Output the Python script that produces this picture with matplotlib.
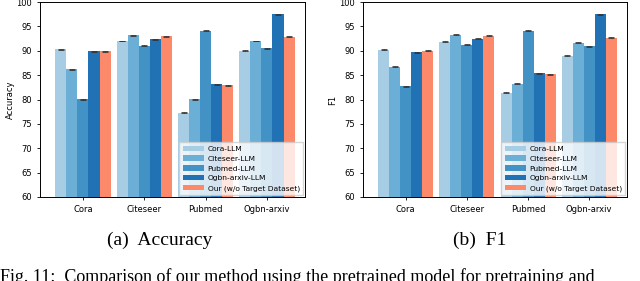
import matplotlib.pyplot as plt
import numpy as np

datasets = ["Cora", "Citeseer", "Pubmed", "Ogbn-arxiv"]
series = ["Cora-LLM", "Citeseer-LLM", "Pubmed-LLM", "Ogbn-arxiv-LLM", "Our (w/o Target Dataset)"]
colors = ["#a6cde4", "#6baed6", "#4292c6", "#2171b5", "#fc8a6a"]

# rows: series, columns: datasets
acc = [
    [90.3, 92.0, 77.3, 90.0],
    [86.2, 93.2, 80.1, 92.0],
    [80.1, 91.0, 94.1, 90.5],
    [89.9, 92.4, 83.1, 97.5],
    [89.9, 93.0, 82.9, 92.9],
]
f1 = [
    [90.2, 91.8, 81.4, 89.0],
    [86.7, 93.3, 83.2, 91.6],
    [82.7, 91.2, 94.1, 90.9],
    [89.7, 92.5, 85.4, 97.5],
    [90.0, 93.1, 85.2, 92.7],
]
err = 0.1

fig = plt.figure(figsize=(6.4, 2.81), dpi=100)
ax1 = fig.add_axes([40 / 640, 1 - 197 / 281, 265 / 640, 195 / 281])
ax2 = fig.add_axes([363 / 640, 1 - 197 / 281, 264 / 640, 195 / 281])

x = np.arange(len(datasets))
w = 0.18

for ax, data, ylab in [(ax1, acc, "Accuracy"), (ax2, f1, "F1")]:
    for i, (name, vals) in enumerate(zip(series, data)):
        ax.bar(x + (i - 2) * w, vals, w, color=colors[i], label=name,
               yerr=err, capsize=2, error_kw=dict(elinewidth=0.6, capthick=0.6, ecolor="#333333"))
    ax.set_ylim(60, 100)
    ax.set_xlim(-0.7, 3.62)
    ax.set_xticks(x)
    ax.set_xticklabels(datasets)
    ax.set_ylabel(ylab, fontsize=6, labelpad=1)
    ax.tick_params(labelsize=6, length=2.5, width=0.6)
    for s in ax.spines.values():
        s.set_linewidth(0.7)
    ax.legend(loc="lower right", fontsize=5.4, handlelength=2.8, handletextpad=0.5,
              borderpad=0.45, labelspacing=0.48, fancybox=False, framealpha=0.8,
              borderaxespad=0.25)

fig.text(160 / 640, 1 - 240 / 281, "(a)  Accuracy", ha="center", va="center",
         family="Liberation Serif", fontsize=14)
fig.text(480 / 640, 1 - 240 / 281, "(b)  F1", ha="center", va="center",
         family="Liberation Serif", fontsize=14)
fig.text(0, 1 - 268 / 281, "Fig. 11:  Comparison of our method using the pretrained model for pretraining and",
         ha="left", va="top", family="Liberation Serif", fontsize=13)

fig.savefig("out.png", dpi=100)
